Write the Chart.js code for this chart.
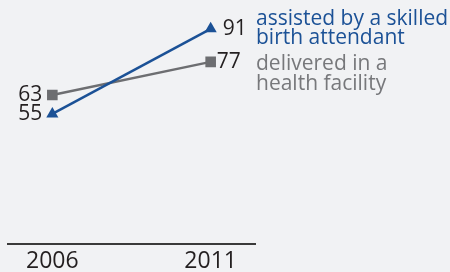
<!DOCTYPE html>
<html>
<head>
<meta charset="utf-8">
<script src="https://cdn.jsdelivr.net/npm/chart.js@4"></script>
<style>
  html, body { margin: 0; padding: 0; background: #f1f2f4; }
  #wrap { width: 450px; height: 272px; position: relative; }
</style>
</head>
<body>
<div id="wrap"><canvas id="birthChart" width="450" height="272"></canvas></div>
<script>
var years = [2006, 2011];
var skilledAttendant = [55, 91];
var healthFacility = [63, 77];
var seriesNames = [['assisted by a skilled', 'birth attendant'], ['delivered in a', 'health facility']];

var blue = '#1b5196';
var grey = '#6d6e71';
var FONT = '"Open Sans", "Noto Sans", sans-serif';

// value labels next to the points + the side captions
var labelPlugin = {
    id: 'labels',
    afterDatasetsDraw: function(chart) {
        var ctx = chart.ctx;
        ctx.save();
        ctx.font = '21px ' + FONT;
        ctx.fillStyle = '#231f20';
        ctx.textBaseline = 'middle';
        var offsets = [[-10, 12], [-10, 6]];
        chart.data.datasets.forEach(function(ds, i) {
            var meta = chart.getDatasetMeta(i);
            meta.data.forEach(function(pt, j) {
                ctx.textAlign = j === 0 ? 'right' : 'left';
                ctx.fillText(String(ds.data[j].y), pt.x + offsets[i][j], pt.y);
            });
        });
        ctx.textAlign = 'left';
        ctx.textBaseline = 'alphabetic';
        ctx.fillStyle = blue;
        ctx.fillText(seriesNames[0][0], 256, 25);
        ctx.fillText(seriesNames[0][1], 256, 44);
        ctx.fillStyle = '#77787b';
        ctx.fillText(seriesNames[1][0], 256, 70);
        ctx.fillText(seriesNames[1][1], 256, 90);
        ctx.restore();
    }
};

function toPoints(vals) {
    return vals.map(function(v, i) { return { x: years[i], y: v }; });
}

var ctx = document.getElementById('birthChart').getContext('2d');
var birthChart = new Chart(ctx, {
    type: 'line',
    data: {
        datasets: [
            {
                label: seriesNames[0].join(' '),
                data: toPoints(skilledAttendant),
                borderColor: blue,
                backgroundColor: blue,
                borderWidth: 2.5,
                pointStyle: 'triangle',
                pointRadius: 7,
                pointBorderWidth: 0,
                fill: false
            },
            {
                label: seriesNames[1].join(' '),
                data: toPoints(healthFacility),
                borderColor: grey,
                backgroundColor: grey,
                borderWidth: 2.5,
                pointStyle: 'rect',
                pointRadius: 7.5,
                pointBorderWidth: 0,
                fill: false
            }
        ]
    },
    options: {
        responsive: false,
        animation: false,
        layout: { padding: { left: 8, right: 195, top: 6, bottom: -7 } },
        plugins: { legend: { display: false }, tooltip: { enabled: false } },
        scales: {
            x: {
                type: 'linear',
                min: 2004.6,
                max: 2012.4,
                afterBuildTicks: function(scale) {
                    scale.ticks = years.map(function(y) { return { value: y }; });
                },
                grid: { display: false, drawTicks: false },
                border: { display: true, color: '#3a3a3a', width: 2 },
                ticks: {
                    color: '#231f20',
                    padding: 6,
                    font: { family: FONT, size: 23, lineHeight: 1 },
                    callback: function(v) { return String(v); }
                }
            },
            y: {
                display: false,
                min: 0,
                max: 100
            }
        }
    },
    plugins: [labelPlugin]
});
</script>
</body>
</html>
